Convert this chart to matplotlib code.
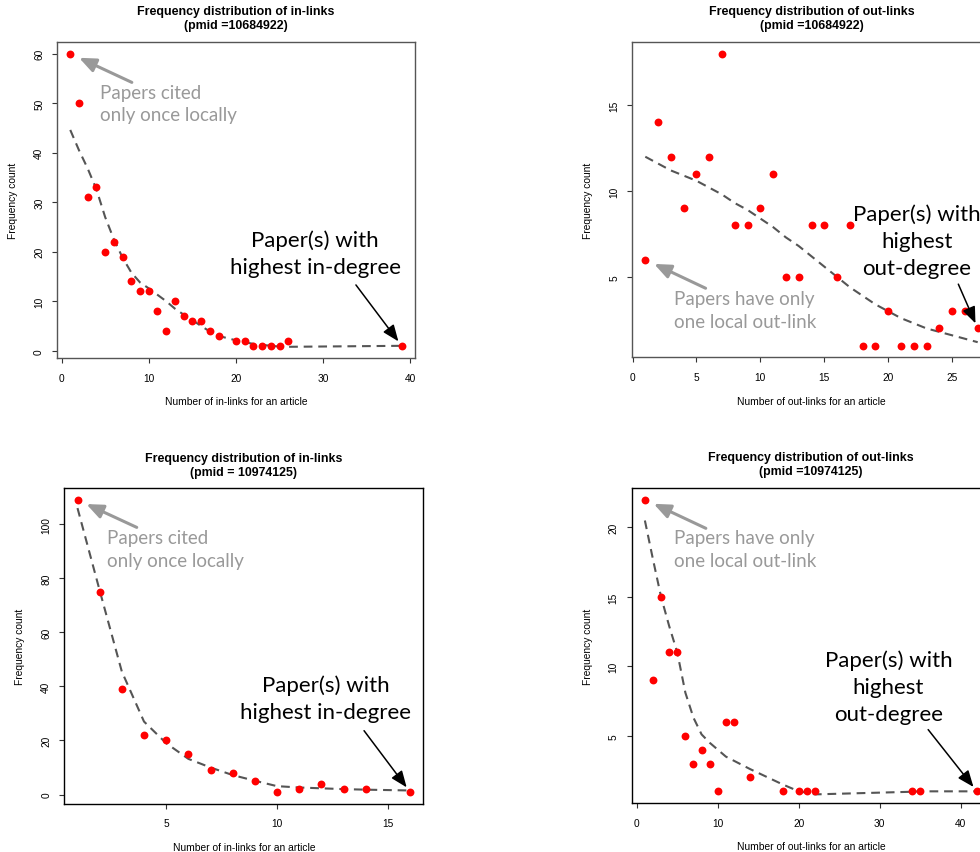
import matplotlib
matplotlib.use('Agg')
import matplotlib.pyplot as plt

# ---------------- data ----------------
# Panel 1: in-links, pmid 10684922
in1_x = [1, 2, 3, 4, 5, 6, 7, 8, 9, 10, 11, 12, 13, 14, 15, 16, 17, 18, 20, 21, 22, 23, 24, 25, 26, 39]
in1_y = [60, 50, 31, 33, 20, 22, 19, 14, 12, 12, 8, 4, 10, 7, 6, 6, 4, 3, 2, 2, 1, 1, 1, 1, 2, 1]
in1_fit = [44.6, 40.5, 36.8, 32.6, 27.0, 22.5, 18.8, 15.8, 13.8, 12.6, 11.3, 10.0, 8.5, 7.3, 6.2, 5.0,
           3.9, 3.0, 2.1, 1.7, 1.4, 1.2, 1.0, 0.85, 0.8, 1.0]
in1_xticks = [0, 10, 20, 30, 40]
in1_yticks = [0, 10, 20, 30, 40, 50, 60]

# Panel 2: out-links, pmid 10684922
out1_x = [1, 2, 3, 4, 5, 6, 7, 8, 9, 10, 11, 12, 13, 14, 15, 16, 17, 18, 19, 20, 21, 22, 23, 24, 25, 26, 27]
out1_y = [6, 14, 12, 9, 11, 12, 18, 8, 8, 9, 11, 5, 5, 8, 8, 5, 8, 1, 1, 3, 1, 1, 1, 2, 3, 3, 2]
out1_fit = [12.0, 11.6, 11.2, 10.9, 10.6, 10.2, 9.8, 9.3, 8.9, 8.4, 7.9, 7.3, 6.8, 6.2, 5.6, 5.0,
            4.4, 3.9, 3.4, 3.0, 2.6, 2.3, 2.0, 1.8, 1.6, 1.4, 1.2]
out1_xticks = [0, 5, 10, 15, 20, 25]
out1_yticks = [5, 10, 15]

# Panel 3: in-links, pmid 10974125
in2_x = [1, 2, 3, 4, 5, 6, 7, 8, 9, 10, 11, 12, 13, 14, 16]
in2_y = [109, 75, 39, 22, 20, 15, 9, 8, 5, 1, 2, 4, 2, 2, 1]
in2_fit = [106, 75.5, 45.5, 27, 19, 13.2, 10, 7.2, 5.1, 3.1, 2.6, 2.3, 2.0, 1.8, 1.5]
in2_xticks = [5, 10, 15]
in2_yticks = [0, 20, 40, 60, 80, 100]

# Panel 4: out-links, pmid 10974125
out2_x = [1, 2, 3, 4, 5, 6, 7, 8, 9, 10, 11, 12, 14, 18, 20, 21, 22, 34, 35, 42]
out2_y = [22, 9, 15, 11, 11, 5, 3, 4, 3, 1, 6, 6, 2, 1, 1, 1, 1, 1, 1, 1]
out2_fit = [20.5, 17.7, 15.0, 12.9, 11.0, 8.1, 6.3, 5.1, 4.5, 4.0, 3.5, 3.2, 2.6, 1.5, 1.0, 0.9, 0.78,
            0.97, 1.0, 1.0]
out2_xticks = [0, 10, 20, 30, 40]
out2_yticks = [5, 10, 15, 20]

titles = ["Frequency distribution of in-links\n(pmid =10684922)",
          "Frequency distribution of out-links\n(pmid =10684922)",
          "Frequency distribution of in-links\n(pmid = 10974125)",
          "Frequency distribution of out-links\n(pmid =10974125)"]
xlabels = ["Number of in-links for an article", "Number of out-links for an article",
           "Number of in-links for an article", "Number of out-links for an article"]
ylabel = "Frequency count"
gray_notes = ["Papers cited\nonly once locally", "Papers have only\none local out-link",
              "Papers cited\nonly once locally", "Papers have only\none local out-link"]
black_notes = ["Paper(s) with\nhighest in-degree", "Paper(s) with\nhighest\nout-degree",
               "Paper(s) with\nhighest in-degree", "Paper(s) with\nhighest\nout-degree"]

# ---------------- layout ----------------
W, H = 980, 853
RFONT = ['Liberation Sans', 'DejaVu Sans']
NFONT = ['Lato', 'DejaVu Sans']

fig = plt.figure(figsize=(W / 100, H / 100), dpi=100)

# (left, top, right, bottom) in pixels
boxes = [(57, 43, 415, 358.5), (632, 43, 991, 358.3),
         (64.2, 489.3, 423.3, 804.5), (631.6, 489, 990.2, 804)]
frame_col = ['#555555', '#555555', '#000000', '#000000']

panels = [(in1_x, in1_y, in1_fit, in1_xticks, in1_yticks),
          (out1_x, out1_y, out1_fit, out1_xticks, out1_yticks),
          (in2_x, in2_y, in2_fit, in2_xticks, in2_yticks),
          (out2_x, out2_y, out2_fit, out2_xticks, out2_yticks)]

# annotation placement (axes fraction)
gray_txt = [(0.120, 0.804), (0.118, 0.150), (0.118, 0.807), (0.119, 0.806)]
gray_tail = [(0.209, 0.872), (0.205, 0.219), (0.202, 0.876), (0.207, 0.872)]
black_txt = [(0.721, 0.331), (0.793, 0.369), (0.729, 0.333), (0.716, 0.370)]
black_tail = [(0.835, 0.230), (0.909, 0.232), (0.835, 0.231), (0.827, 0.233)]


def rlim(v):
    lo, hi = min(v), max(v)
    r = hi - lo
    return lo - 0.04 * r, hi + 0.04 * r


for i, (xs, ys, fit, xt, yt) in enumerate(panels):
    l, t, r, b = boxes[i]
    ax = fig.add_axes([l / W, 1 - b / H, (r - l) / W, (b - t) / H])
    ax.set_xlim(*rlim(xs))
    ax.set_ylim(*rlim(ys))
    ax.plot(xs, fit, linestyle=(0, (4.2, 2.8)), color='#555555', lw=1.5, zorder=2)
    ax.scatter(xs, ys, s=32, color='#ff0000', zorder=3, linewidths=0)
    ax.set_xticks(xt)
    ax.set_yticks(yt)
    for sp in ax.spines.values():
        sp.set_color(frame_col[i])
        sp.set_linewidth(1.0)
    ax.tick_params(direction='out', length=3.3, width=0.8, color='#333333',
                   labelsize=7.3, pad=7.5)
    ax.tick_params(axis='y', labelrotation=90, pad=6.0)
    for lab in ax.get_xticklabels() + ax.get_yticklabels():
        lab.set_family(RFONT)
    for lab in ax.get_yticklabels():
        lab.set_va('center')

    ax.text(0.5, 1.075, titles[i], transform=ax.transAxes, ha='center', va='center',
            fontsize=8.9, fontweight='bold', family=RFONT, linespacing=1.2)
    ax.text(0.5, -0.138, xlabels[i], transform=ax.transAxes, ha='center', va='center',
            fontsize=7.4, family=RFONT)
    ax.text(-0.122, 0.5, ylabel, transform=ax.transAxes, ha='center', va='center',
            rotation=90, fontsize=7.4, family=RFONT)

    # gray annotation
    ax.text(gray_txt[i][0], gray_txt[i][1], gray_notes[i], transform=ax.transAxes,
            ha='left', va='center', fontsize=13.5, color='#999999', family=NFONT,
            linespacing=1.38)
    ax.annotate('', xy=(xs[0], ys[0]), xytext=gray_tail[i], textcoords='axes fraction',
                arrowprops=dict(arrowstyle='-|>,head_length=1.0,head_width=0.42',
                                color='#999999', lw=2.2, shrinkA=0, shrinkB=7,
                                mutation_scale=10))
    # black annotation
    ax.text(black_txt[i][0], black_txt[i][1], black_notes[i], transform=ax.transAxes,
            ha='center', va='center', fontsize=16, color='black', family=NFONT,
            linespacing=1.45)
    ax.annotate('', xy=(xs[-1], ys[-1]), xytext=black_tail[i], textcoords='axes fraction',
                arrowprops=dict(arrowstyle='-|>,head_length=1.0,head_width=0.4',
                                color='black', lw=1.1, shrinkA=0, shrinkB=4,
                                mutation_scale=10))

fig.savefig('out.png', dpi=100)
